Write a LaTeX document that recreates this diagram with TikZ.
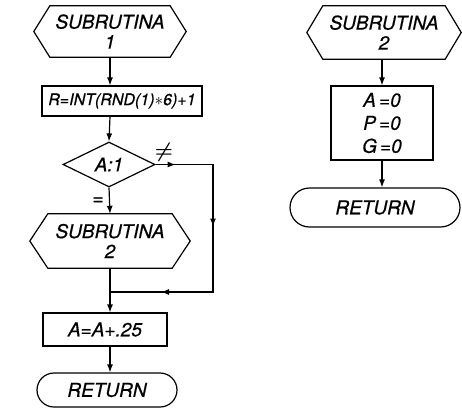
\documentclass[tikz,border=0pt]{standalone}
\usepackage{fontspec}
\setmainfont{TeX Gyre Heros}[ItalicFeatures={FakeBold=0.6}]
\usetikzlibrary{shapes.misc,shapes.geometric,arrows.meta,calc}
\newcommand\hexdraw[2]{\draw[line] (#1.north west) -- (#1.north east) -- ([xshift=#2]#1.east) -- (#1.south east) -- (#1.south west) -- ([xshift=-#2]#1.west) -- cycle;}
\begin{document}
\begin{tikzpicture}[x=1pt,y=-1pt,
  line/.style={line width=1.2pt},
  arr/.style={line, -{Latex[length=8pt,width=6pt]}},
  txt/.style={font=\fontsize{19}{20}\selectfont\itshape, inner sep=0pt, align=center},
  hexbox/.style={txt},
  procbox/.style={txt, draw, line width=1.2pt},
  termbox/.style={txt, draw, line width=1.2pt, rounded rectangle},
  decbox/.style={txt, draw, line width=1.2pt, diamond}
]
\useasboundingbox (0,0) rectangle (462,408);
% left column
\node[hexbox, minimum width=120pt, minimum height=51pt] (h1) at (110,31.5) {SUBRUTINA\\1};
\hexdraw{h1}{16pt}
\node[procbox, minimum width=160pt, minimum height=30pt, font=\fontsize{16}{18}\selectfont\itshape] (b1) at (122,101) {R=INT(RND(1)$\ast$6)+1};
\node[decbox, minimum width=92pt, minimum height=45pt] (d) at (109,164.5) {A:1};
\node[hexbox, minimum width=124pt, minimum height=54pt] (h2) at (110,241) {SUBRUTINA\\2};
\hexdraw{h2}{18pt}
\node[procbox, minimum width=124pt, minimum height=33pt] (b2) at (105,329.5) {A=A+.25};
\node[termbox, minimum width=140pt, minimum height=34pt] (r1) at (107,390) {RETURN};
\node[txt, font=\fontsize{20}{20}\selectfont\boldmath] (ne) at (164,152) {$\neq$};
\node[txt] (eq) at (98,201) {=};
% right column
\node[hexbox, minimum width=122pt, minimum height=53pt] (h3) at (384,32.5) {SUBRUTINA\\2};
\hexdraw{h3}{16pt}
\node[procbox, minimum width=102pt, minimum height=74pt, font=\fontsize{19}{23}\selectfont\itshape] (b3) at (382,123) {A\,=0\\P\,=0\\G\,=0};
\node[termbox, minimum width=170pt, minimum height=39pt] (r2) at (375,207.5) {RETURN};
% connectors left
\draw[arr] (h1.south) -- (h1.south |- b1.north);
\draw[arr] (h1.south |- b1.south) -- (d.north);
\draw[arr] (d.south) -- (h2.north);
\coordinate (c1) at (213,164.5);
\coordinate (c2) at (213,292);
\coordinate (m) at (h2.south |- c2);
\draw[line] (d.east) -- (c1) -- (c2) -- (m);
\draw[arr] (d.east) -- ($(d.east)+(20,0)$);
\draw[arr] (c1) -- ($(c1)+(0,62)$);
\draw[arr] (c2) -- ($(c2)+(-52,0)$);
\draw[arr] (h2.south) -- (h2.south |- b2.north);
\draw[arr] (h2.south |- b2.south) -- (h2.south |- r1.north);
% connectors right
\draw[arr] (b3.north |- h3.south) -- (b3.north);
\draw[arr] (b3.south) -- (b3.south |- r2.north);
\end{tikzpicture}
\end{document}
